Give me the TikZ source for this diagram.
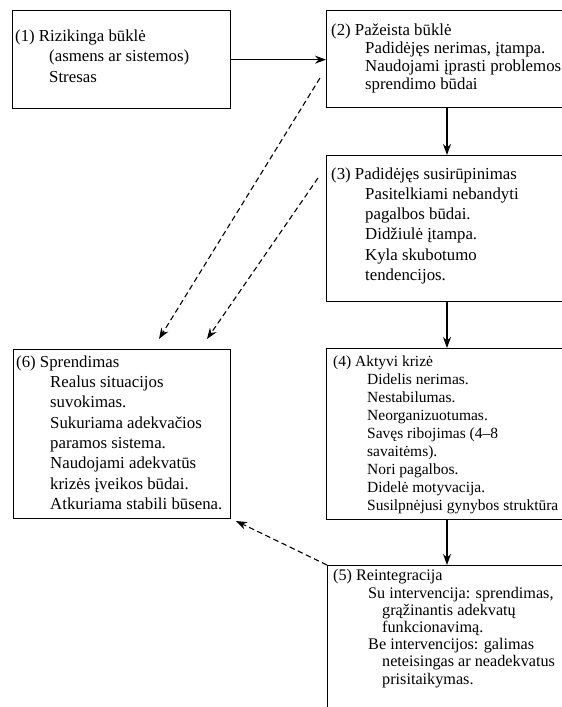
\documentclass[tikz,border=0pt]{standalone}
\usepackage{fontspec}
\setmainfont{Liberation Serif}
\usetikzlibrary{arrows.meta}
\newcommand{\ind}{\hspace*{34pt}}
\newcommand{\indd}{\hspace*{49pt}}
\begin{document}
\begin{tikzpicture}[x=1pt,y=-1pt,
  box/.style={draw,line width=1.3pt,anchor=north west,inner sep=0pt},
  txt/.style={anchor=north west,inner sep=0pt,align=left},
  flow/.style={line width=1.1pt,-{Stealth[length=11pt,width=8pt]}},
  back/.style={flow,dash pattern=on 5.5pt off 3.5pt}]
\useasboundingbox (0,0) rectangle (562,707);
\clip (0,0) rectangle (562,707);
\fill[white] (0,0) rectangle (562,707);

% stage boxes
\node[box,minimum width=218pt,minimum height=98pt] (b1) at (12,10) {};
\node[box,minimum width=280pt,minimum height=97pt] (b2) at (326,10) {};
\node[box,minimum width=280pt,minimum height=146pt] (b3) at (326,155) {};
\node[box,minimum width=280pt,minimum height=171pt] (b4) at (326,348) {};
\node[box,minimum width=280pt,minimum height=200pt] (b5) at (327,565) {};
\node[box,minimum width=217pt,minimum height=169pt] (b6) at (13,349) {};

% stage texts
\node[txt,font=\fontsize{16.8}{20.5}\selectfont] (t1) at (15,29.5)
  {(1) Rizikinga būklė\\ \ind(asmens ar sistemos)\\ \ind Stresas};
\node[txt,font=\fontsize{16.8}{17.8}\selectfont] (t2) at (331,24)
  {(2) Pažeista būklė\\ \ind Padidėjęs nerimas, įtampa.\\ \ind Naudojami įprasti problemos\\ \ind sprendimo būdai};
\node[txt,font=\fontsize{16.8}{20.2}\selectfont] (t3) at (331,167.5)
  {(3) Padidėjęs susirūpinimas\\ \ind Pasitelkiami nebandyti\\ \ind pagalbos būdai.\\ \ind Didžiulė įtampa.\\ \ind Kyla skubotumo\\ \ind tendencijos.};
\node[txt,font=\fontsize{15.5}{18}\selectfont] (t4) at (333,356)
  {(4) Aktyvi krizė\\ \ind Didelis nerimas.\\ \ind Nestabilumas.\\ \ind Neorganizuotumas.\\ \ind Savęs ribojimas (4–8\\ \ind savaitėms).\\ \ind Nori pagalbos.\\ \ind Didelė motyvacija.\\ \ind Susilpnėjusi gynybos struktūra};
\node[txt,font=\fontsize{16.2}{17.2}\selectfont] (t5) at (333,569.5)
  {(5) Reintegracija\\ \hspace*{35pt}Su intervencija: sprendimas,\\ \indd grąžinantis adekvatų\\ \indd funkcionavimą.\\ \hspace*{35pt}Be intervencijos: galimas\\ \indd neteisingas ar neadekvatus\\ \indd prisitaikymas.};
\node[txt,font=\fontsize{16.8}{20.3}\selectfont] (t6) at (16,355.5)
  {(6) Sprendimas\\ \ind Realus situacijos\\ \ind suvokimas.\\ \ind Sukuriama adekvačios\\ \ind paramos sistema.\\ \ind Naudojami adekvatūs\\ \ind krizės įveikos būdai.\\ \ind Atkuriama stabili būsena.};

% main sequence
\coordinate (col) at (447,0);
\draw[flow] (b1.east) -- (b1.east -| b2.west);
\draw[flow] (b2.south -| col) -- (b3.north -| col);
\draw[flow] (b3.south -| col) -- (b4.north -| col);
\draw[flow] (b4.south -| col) -- (b5.north -| col);

% routes towards resolution
\coordinate (d1s) at (320,78);
\coordinate (d1e) at (159,339);
\coordinate (d2s) at (318,178);
\coordinate (d2e) at (207,339);
\coordinate (d3e) at (236,521);
\draw[back] (d1s) -- (d1e);
\draw[back] (d2s) -- (d2e);
\draw[back] (b5.north west) -- (d3e);
\end{tikzpicture}
\end{document}
